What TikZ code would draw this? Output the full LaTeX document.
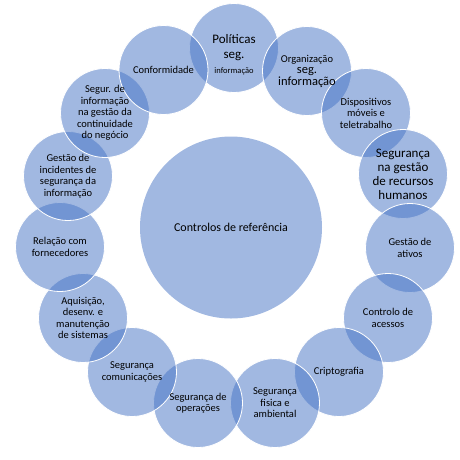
\documentclass[tikz,border=0pt]{standalone}
\usepackage{fontspec}
\setmainfont{Carlito}
\usepackage{xcolor}
\definecolor{ringblue}{RGB}{68,114,196}
\tikzset{
  ringdisc/.style={circle,minimum size=89pt,inner sep=0pt,fill=ringblue,
    fill opacity=0.5,draw=white,line width=0.8pt},
  ringtext/.style={align=center,inner sep=0pt,
    font=\fontsize{10.5}{11.5}\selectfont},
}
\newcommand{\bigline}{\fontsize{12.5}{13}\selectfont}
\begin{document}
\begin{tikzpicture}[x=1pt,y=-1pt]
    \useasboundingbox (0,0) rectangle (460,459);
    % centre
    \node[circle,minimum size=182pt,inner sep=0pt,fill=ringblue,fill opacity=0.5]
      (hub) at (231,227.5) {};
    \node[inner sep=0pt,font=\fontsize{12}{14}\selectfont] (hubtext) at (hub)
      {Controlos de referência};
    % ring of discs, clockwise from the top
    \foreach \i/\x/\y in {0/234/48,1/307/71,2/366/113,3/403/174,4/410/248,
        5/388/318,6/339/372,7/275/403,8/198/403,9/132/372,10/83/318,
        11/60/247,12/68/176,13/105/113,14/163.5/70}
      \node[ringdisc] (c\i) at (\x,\y) {};
    % labels
    \node[ringtext,yshift=-7pt,font=\fontsize{13}{15}\selectfont] (t0) at (c0)
      {Políticas\\seg.\\ \fontsize{8.5}{10}\selectfont informação};
    \node[ringtext] (t1) at (c1)
      {Organização\\ \bigline seg.\\ \bigline informação};
    \node[ringtext] (t2) at (c2) {Dispositivos\\móveis e\\teletrabalho};
    \node[ringtext,font=\fontsize{13}{14}\selectfont] (t3) at (c3)
      {Segurança\\na gestão\\de recursos\\humanos};
    \node[ringtext] (t4) at (c4) {Gestão de\\ativos};
    \node[ringtext] (t5) at (c5) {Controlo de\\acessos};
    \node[ringtext] (t6) at (c6) {Criptografia};
    \node[ringtext] (t7) at (c7) {Segurança\\fisica e\\ambiental};
    \node[ringtext] (t8) at (c8) {Segurança de\\operações};
    \node[ringtext] (t9) at (c9) {Segurança\\comunicações};
    \node[ringtext] (t10) at (c10)
      {Aquisição,\\desenv. e\\manutenção\\de sistemas};
    \node[ringtext] (t11) at (c11) {Relação com\\fornecedores};
    \node[ringtext] (t12) at (c12)
      {Gestão de\\incidentes de\\segurança da\\informação};
    \node[ringtext] (t13) at (c13)
      {Segur. de\\informação\\na gestão da\\continuidade\\do negócio};
    \node[ringtext] (t14) at (c14) {Conformidade};
  \end{tikzpicture}
\end{document}
